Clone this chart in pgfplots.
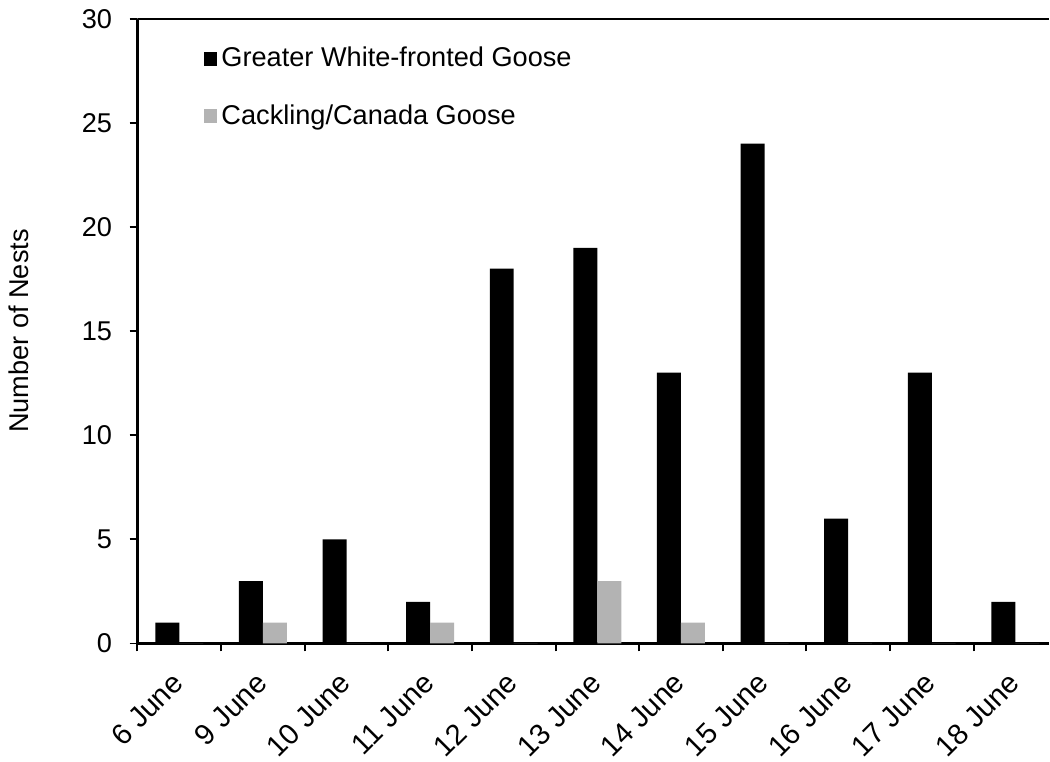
\documentclass[border=0pt]{standalone}
\usepackage{pgfplots}
\pgfplotsset{compat=1.18}
\usepackage{fontspec}
\setmainfont{Liberation Sans}

\definecolor{cackgray}{RGB}{179,179,179}
\newcommand{\lblfont}{\fontsize{13.6}{16}\selectfont}
\newcommand{\datefont}{\fontsize{14.6}{17}\selectfont}

\begin{document}
\lblfont
\begin{tikzpicture}
\begin{axis}[
  scale only axis,
  width=456.5pt, height=313pt,
  ymin=0, ymax=30,
  xmin=-0.5, xmax=10.4,
  ytick={0,5,...,30},
  xtick={0,...,10},
  xticklabels={6 June,9 June,10 June,11 June,12 June,13 June,14 June,15 June,16 June,17 June,18 June},
  minor xtick={-0.5,0.5,...,9.5},
  major x tick style={draw=none},
  tick align=outside,
  major tick length=4pt,
  minor tick length=4pt,
  every tick/.style={black, line width=1pt},
  axis x line*=bottom,
  axis y line*=left,
  axis line style={line width=1.2pt},
  separate axis lines,
  every outer x axis line/.append style={-},
  every outer y axis line/.append style={-},
  /pgf/number format/assume math mode=true,
  yticklabel style={font=\lblfont, xshift=-4pt},
  xticklabel style={font=\datefont, xshift=-4.4pt, yshift=-8pt, rotate=45, anchor=north east, inner sep=1pt},
  ylabel={Number of Nests},
  every axis y label/.style={at={(axis description cs:-0.130,0.5)}, rotate=90, anchor=center, font=\lblfont},
  ybar=0pt,
  bar width=12pt,
  legend style={draw=none, fill=none, at={(rel axis cs:0.072,0.962)}, anchor=north west,
    font=\lblfont, row sep=13pt, inner sep=0pt},
  legend cell align=left,
  legend image code/.code={\fill[#1,draw=none] (0pt,-3.5pt) rectangle (7pt,3.5pt);},
]
\addplot[fill=black, draw=none] coordinates {
  (0,1) (1,3) (2,5) (3,2) (4,18) (5,19) (6,13) (7,24) (8,6) (9,13) (10,2)};
\addplot[fill=cackgray, draw=none] coordinates {
  (0,0) (1,1) (2,0) (3,1) (4,0) (5,3) (6,1) (7,0) (8,0) (9,0) (10,0)};
\draw[black, line width=1.2pt] (rel axis cs:0,1) -- (rel axis cs:1,1);
\legend{Greater White-fronted Goose, Cackling/Canada Goose}
\end{axis}
\end{tikzpicture}
\end{document}
